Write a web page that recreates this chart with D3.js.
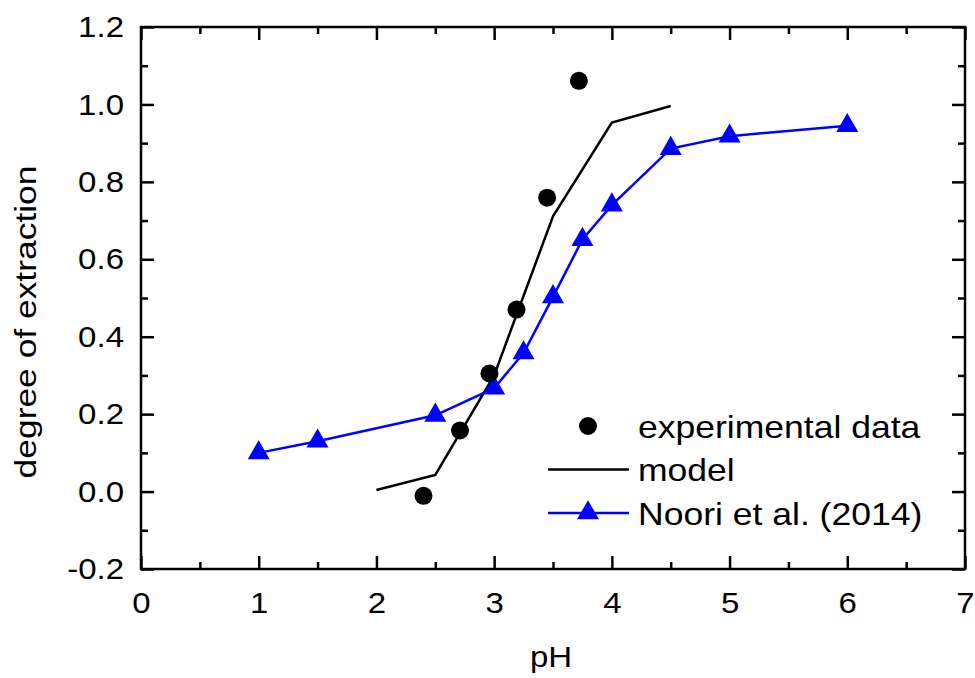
<!DOCTYPE html>
<html>
<head>
<meta charset="utf-8">
<script src="https://cdn.jsdelivr.net/npm/d3@7"></script>
<style>
  body { margin: 0; background: #fff; }
  svg text { font-family: "Liberation Sans", Arial, sans-serif; }
</style>
</head>
<body>
<div id="chart"></div>
<script>
// degree of extraction vs pH
const expPH = [2.40, 2.71, 2.96, 3.19, 3.45, 3.72];
const expDeg = [-0.011, 0.158, 0.305, 0.470, 0.759, 1.061];

const modelPH = [2.0, 2.5, 3.0, 3.5, 4.0, 4.5];
const modelDeg = [0.004, 0.043, 0.300, 0.711, 0.953, 0.996];

const nooriPH = [1.0, 1.5, 2.5, 3.0, 3.25, 3.5, 3.75, 4.0, 4.5, 5.0, 6.0];
const nooriDeg = [0.100, 0.130, 0.197, 0.267, 0.358, 0.503, 0.651, 0.740, 0.886, 0.918, 0.945];

const xTicks = [0, 1, 2, 3, 4, 5, 6, 7];
const yTicks = [-0.2, 0.0, 0.2, 0.4, 0.6, 0.8, 1.0, 1.2];
const legendLabels = ["experimental data", "model", "Noori et al. (2014)"];

const W = 975, H = 678;
const margin = {top: 27, right: 10, bottom: 109, left: 141};
const width = W - margin.left - margin.right;
const height = H - margin.top - margin.bottom;
const fs = 30;

const x = d3.scaleLinear().domain([0, 7]).range([0, width]);
const y = d3.scaleLinear().domain([-0.2, 1.2]).range([height, 0]);

const svg = d3.select("#chart")
  .append("svg")
    .attr("width", W)
    .attr("height", H)
  .append("g")
    .attr("transform", `translate(${margin.left}, ${margin.top})`);

const fmtY = d => d.toFixed(1);
const xMinor = d3.range(0.5, 7, 1);
const yMinor = d3.range(-0.1, 1.2, 0.2);

// the original font runs a bit wider than Arial
function widen(sel, k) {
  sel.each(function () {
    const len = this.getComputedTextLength();
    if (len > 0) {
      d3.select(this)
        .attr("textLength", len * k)
        .attr("lengthAdjust", "spacingAndGlyphs");
    }
  });
}

function styleAxis(g) {
  g.select(".domain").remove();
  g.selectAll("line").attr("stroke", "#000").attr("stroke-width", 2.5);
  g.selectAll("text").attr("font-size", fs).attr("fill", "#000").call(widen, 1.1);
}

// bottom
svg.append("g").attr("transform", `translate(0, ${height})`)
  .call(d3.axisBottom(x).tickValues(xTicks).tickFormat(d3.format("d")).tickSize(-13).tickPadding(23))
  .call(styleAxis);
svg.append("g").attr("transform", `translate(0, ${height})`)
  .call(d3.axisBottom(x).tickValues(xMinor).tickFormat("").tickSize(-7))
  .call(styleAxis);
// top
svg.append("g")
  .call(d3.axisTop(x).tickValues(xTicks).tickFormat("").tickSize(-13))
  .call(styleAxis);
svg.append("g")
  .call(d3.axisTop(x).tickValues(xMinor).tickFormat("").tickSize(-7))
  .call(styleAxis);
// left
svg.append("g")
  .call(d3.axisLeft(y).tickValues(yTicks).tickFormat(fmtY).tickSize(-13).tickPadding(17))
  .call(styleAxis);
svg.append("g")
  .call(d3.axisLeft(y).tickValues(yMinor).tickFormat("").tickSize(-7))
  .call(styleAxis);
// right
svg.append("g").attr("transform", `translate(${width}, 0)`)
  .call(d3.axisRight(y).tickValues(yTicks).tickFormat("").tickSize(-13))
  .call(styleAxis);
svg.append("g").attr("transform", `translate(${width}, 0)`)
  .call(d3.axisRight(y).tickValues(yMinor).tickFormat("").tickSize(-7))
  .call(styleAxis);

svg.append("rect")
  .attr("width", width)
  .attr("height", height)
  .attr("fill", "none")
  .attr("stroke", "#000")
  .attr("stroke-width", 2.5);

// axis titles
svg.append("text")
  .attr("x", width / 2 - 2)
  .attr("y", height + 98)
  .attr("text-anchor", "middle")
  .attr("font-size", fs)
  .text("pH")
  .call(widen, 1.1);

svg.append("text")
  .attr("transform", `translate(${36 - margin.left}, ${322 - margin.top}) rotate(-90)`)
  .attr("text-anchor", "middle")
  .attr("font-size", fs)
  .text("degree of extraction")
  .call(widen, 1.18);

const line = d3.line()
  .x(d => x(d[0]))
  .y(d => y(d[1]));

const model = d3.zip(modelPH, modelDeg);
const noori = d3.zip(nooriPH, nooriDeg);
const exp = d3.zip(expPH, expDeg);

svg.append("path")
  .datum(model)
  .attr("fill", "none")
  .attr("stroke", "#000")
  .attr("stroke-width", 2.5)
  .attr("d", line);

svg.append("path")
  .datum(noori)
  .attr("fill", "none")
  .attr("stroke", "#0000ff")
  .attr("stroke-width", 2.5)
  .attr("d", line);

const tri = d3.symbol().type(d3.symbolTriangle).size(210);

svg.selectAll(".tri")
  .data(noori)
  .join("path")
    .attr("class", "tri")
    .attr("transform", d => `translate(${x(d[0])}, ${y(d[1])})`)
    .attr("fill", "#0000ff")
    .attr("d", tri);

svg.selectAll(".dot")
  .data(exp)
  .join("circle")
    .attr("class", "dot")
    .attr("cx", d => x(d[0]))
    .attr("cy", d => y(d[1]))
    .attr("r", 9)
    .attr("fill", "#000");

// legend
const lg = svg.append("g").attr("transform", `translate(${548 - margin.left}, ${426 - margin.top})`);
const rowH = 43.5;

lg.append("circle").attr("cx", 40).attr("cy", 0).attr("r", 9).attr("fill", "#000");
lg.append("line").attr("x1", 0).attr("x2", 81).attr("y1", rowH).attr("y2", rowH)
  .attr("stroke", "#000").attr("stroke-width", 2.5);
lg.append("line").attr("x1", 0).attr("x2", 81).attr("y1", 2 * rowH).attr("y2", 2 * rowH)
  .attr("stroke", "#0000ff").attr("stroke-width", 2.5);
lg.append("path").attr("transform", `translate(40, ${2 * rowH})`)
  .attr("fill", "#0000ff").attr("d", tri);

lg.selectAll(".lbl")
  .data(legendLabels)
  .join("text")
    .attr("class", "lbl")
    .attr("x", 90)
    .attr("y", (d, i) => i * rowH)
    .attr("dy", "0.36em")
    .attr("font-size", 32)
    .text(d => d)
    .call(widen, 1.11);
</script>
</body>
</html>
